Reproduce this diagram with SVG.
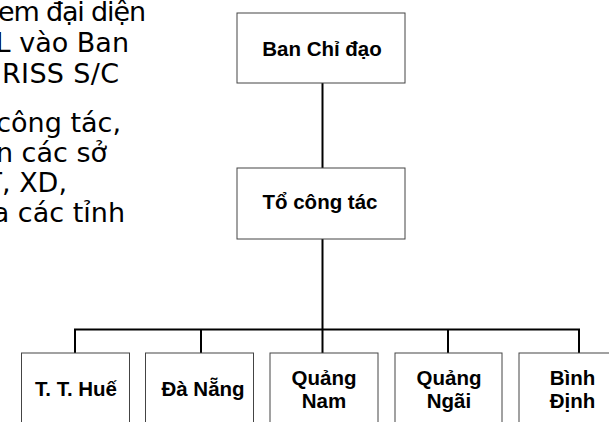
<svg xmlns="http://www.w3.org/2000/svg" width="609" height="422" viewBox="0 0 609 422">
<style>
.note{font-family:"DejaVu Sans","Liberation Sans",sans-serif;font-size:27px;fill:#000;text-anchor:end}
.box{fill:#fff;stroke:#444;stroke-width:1}
.lbl{font-family:"Liberation Sans",Arial,sans-serif;font-size:20.5px;font-weight:bold;fill:#000;text-anchor:middle}
.conn{stroke:#000;stroke-width:2;fill:none}
</style>
<rect width="609" height="422" fill="#fff"/>
<g id="notes">
<text class="note" x="146" y="21" textLength="148" lengthAdjust="spacing">em đại diện</text>
<text class="note" x="129" y="52">L vào Ban</text>
<text class="note" x="119" y="83" textLength="117" lengthAdjust="spacing">RISS S/C</text>
<text class="note" x="121" y="132">công tác,</text>
<text class="note" x="107" y="162">n các sở</text>
<text class="note" x="67" y="192">T, XD,</text>
<text class="note" x="125" y="222">a các tỉnh</text>
</g>
<g id="connectors">
<line class="conn" x1="322.5" y1="83" x2="322.5" y2="168"/>
<line class="conn" x1="322.5" y1="239" x2="322.5" y2="353"/>
<line class="conn" x1="74" y1="329.5" x2="580" y2="329.5"/>
<line class="conn" x1="75" y1="329" x2="75" y2="353"/>
<line class="conn" x1="201" y1="329" x2="201" y2="353"/>
<line class="conn" x1="448" y1="329" x2="448" y2="353"/>
<line class="conn" x1="579" y1="329" x2="579" y2="353"/>
</g>
<g id="ban-chi-dao">
<rect class="box" x="237" y="13" width="168" height="70"/>
<text class="lbl" x="322" y="56">Ban Chỉ đạo</text>
</g>
<g id="to-cong-tac">
<rect class="box" x="237" y="168" width="168" height="71"/>
<text class="lbl" x="320" y="209">Tổ công tác</text>
</g>
<g id="tt-hue">
<rect class="box" x="21.5" y="353" width="108" height="100"/>
<text class="lbl" x="76" y="396">T. T. Huế</text>
</g>
<g id="da-nang">
<rect class="box" x="145.5" y="353" width="108" height="100"/>
<text class="lbl" x="203" y="396">Đà Nẵng</text>
</g>
<g id="quang-nam">
<rect class="box" x="270" y="353" width="108" height="100"/>
<text class="lbl" x="324" y="385">Quảng</text>
<text class="lbl" x="324" y="408">Nam</text>
</g>
<g id="quang-ngai">
<rect class="box" x="395" y="353" width="107" height="100"/>
<text class="lbl" x="449" y="385">Quảng</text>
<text class="lbl" x="449" y="408">Ngãi</text>
</g>
<g id="binh-dinh">
<rect class="box" x="519" y="353" width="108" height="100"/>
<text class="lbl" x="572.5" y="385">Bình</text>
<text class="lbl" x="572.5" y="408">Định</text>
</g>
</svg>
